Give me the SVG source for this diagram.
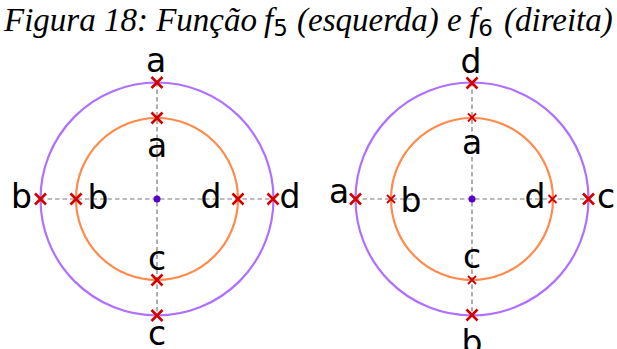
<svg xmlns="http://www.w3.org/2000/svg" width="617" height="349" viewBox="0 0 617 349">
<defs>
<style>
.title{font-family:"Liberation Serif","Times New Roman",serif;font-style:italic;font-size:33px;fill:#000}
.sub{font-family:"DejaVu Sans",sans-serif;font-style:normal;font-size:23px}
.lbl{font-family:"DejaVu Sans",sans-serif;font-size:33px;fill:#000;text-anchor:middle}
.outer{fill:none;stroke:#b070ff;stroke-width:2.2}
.inner{fill:none;stroke:#ff8a4c;stroke-width:2.2}
.axis{stroke:#7a7a7a;stroke-width:1.2;stroke-dasharray:4.5,3;fill:none}
.dot{fill:#5a00cc}
.xl{stroke:#d40000;stroke-width:2.6;fill:none}
.xs{stroke:#d40000;stroke-width:1.8;fill:none}
</style>
<path id="xL" d="M-5.5,-5.5L5.5,5.5M-5.5,5.5L5.5,-5.5"/>
<path id="xS" d="M-4,-4L4,4M-4,4L4,-4"/>
</defs>
<text class="title" x="4" y="31">Figura 18: Função <tspan x="264">f</tspan><tspan class="sub" dy="5">5</tspan><tspan dy="-5" x="297">(esquerda) e</tspan><tspan x="469">f</tspan><tspan class="sub" dy="5">6</tspan><tspan dy="-5" x="504">(direita)</tspan></text>

<g id="connectors">
<path class="axis" d="M40,199H273M157,82V316"/>
<path class="axis" d="M355,199H589M472,82V316"/>
</g>

<g id="left">
<circle class="outer" cx="157" cy="199" r="116.5"/>
<circle class="inner" cx="157" cy="199" r="81"/>
<circle class="dot" cx="157" cy="199" r="3.5"/>
<use href="#xL" class="xl" x="157" y="82.5"/>
<use href="#xL" class="xl" x="157" y="118"/>
<use href="#xL" class="xl" x="157" y="280"/>
<use href="#xL" class="xl" x="157" y="315.5"/>
<use href="#xL" class="xl" x="40.5" y="199"/>
<use href="#xL" class="xl" x="76" y="199"/>
<use href="#xL" class="xl" x="238" y="199"/>
<use href="#xL" class="xl" x="273" y="199"/>
<text class="lbl" x="156" y="72">a</text>
<text class="lbl" x="157" y="157">a</text>
<text class="lbl" x="157" y="270">c</text>
<text class="lbl" x="157" y="345">c</text>
<text class="lbl" x="21.5" y="208">b</text>
<text class="lbl" x="98" y="209">b</text>
<text class="lbl" x="211" y="208">d</text>
<text class="lbl" x="290" y="208">d</text>
</g>

<g id="right">
<circle class="outer" cx="472" cy="199" r="116.5"/>
<circle class="inner" cx="472" cy="199" r="81"/>
<circle class="dot" cx="472" cy="199" r="3.5"/>
<use href="#xL" class="xl" x="472" y="83"/>
<use href="#xS" class="xs" x="472" y="117.5"/>
<use href="#xS" class="xs" x="472" y="280"/>
<use href="#xL" class="xl" x="472" y="315"/>
<use href="#xL" class="xl" x="355.5" y="199"/>
<use href="#xS" class="xs" x="391" y="199"/>
<use href="#xS" class="xs" x="552.5" y="199"/>
<use href="#xL" class="xl" x="588.5" y="199"/>
<text class="lbl" x="471" y="73">d</text>
<text class="lbl" x="472" y="154">a</text>
<text class="lbl" x="472" y="268">c</text>
<text class="lbl" x="472" y="354">b</text>
<text class="lbl" x="339" y="203">a</text>
<text class="lbl" x="411" y="212">b</text>
<text class="lbl" x="535" y="208">d</text>
<text class="lbl" x="606" y="208">c</text>
</g>
</svg>
